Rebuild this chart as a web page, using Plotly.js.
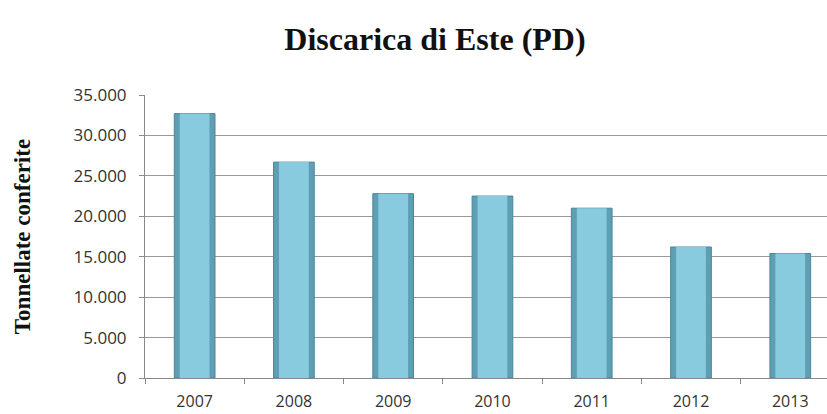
<!DOCTYPE html>
<html><head><meta charset="utf-8">
<script src="https://cdn.plot.ly/plotly-3.0.1.min.js"></script>
<style>html,body{margin:0;padding:0;background:#fff}#chart{width:827px;height:414px}</style>
</head><body><div id="chart"></div>
<script>
const years = ['2007','2008','2009','2010','2011','2012','2013'];
const tonnellate = [32700, 26700, 22800, 22500, 21000, 16200, 15400];
const yTicks = [0, 5000, 10000, 15000, 20000, 25000, 30000, 35000];

const outer = {
  type: 'bar', x: years, y: tonnellate, width: 0.41,
  marker: {color: '#5f9fb4', line: {color: '#4b8699', width: 1}},
  hoverinfo: 'x+y', showlegend: false
};
const inner = {
  type: 'bar', x: years, y: tonnellate, width: 0.3,
  marker: {color: '#88cade', line: {width: 0}},
  hoverinfo: 'skip', showlegend: false
};
const tickFont = {family: 'Open Sans, Lato, sans-serif', size: 17, color: '#333'};
const layout = {
  width: 827, height: 414,
  margin: {l: 145, r: 0, t: 95, b: 36},
  paper_bgcolor: '#fff', plot_bgcolor: '#fff',
  separators: ',.',
  barmode: 'overlay',
  title: {text: 'Discarica di Este (PD)', x: 0.526, xanchor: 'center', y: 0.907, yanchor: 'middle',
    font: {family: 'Liberation Serif, Times New Roman, serif', size: 32, color: '#111', weight: 'bold'}},
  xaxis: {
    type: 'category', range: [-0.5, 6.37], showgrid: false,
    showline: true, linecolor: '#888', linewidth: 1,
    ticks: 'outside', tickson: 'boundaries', ticklen: 5, tickcolor: '#888',
    ticklabelstandoff: 9,
    tickfont: {family: 'Open Sans, Lato, sans-serif', size: 16, color: '#333'},
    fixedrange: true
  },
  yaxis: {
    range: [0, 35000], tickvals: yTicks, tickformat: ',d',
    showgrid: true, gridcolor: '#999', gridwidth: 1, zeroline: false,
    showline: true, linecolor: '#888', linewidth: 1,
    ticks: 'outside', ticklen: 5, tickcolor: '#888',
    ticklabelstandoff: 9,
    tickfont: tickFont,
    title: {text: 'Tonnellate conferite', standoff: 36,
      font: {family: 'Liberation Serif, Times New Roman, serif', size: 23, color: '#111', weight: 'bold'}},
    fixedrange: true
  }
};
Plotly.newPlot('chart', [outer, inner], layout, {displayModeBar: false, staticPlot: true});
</script></body></html>
